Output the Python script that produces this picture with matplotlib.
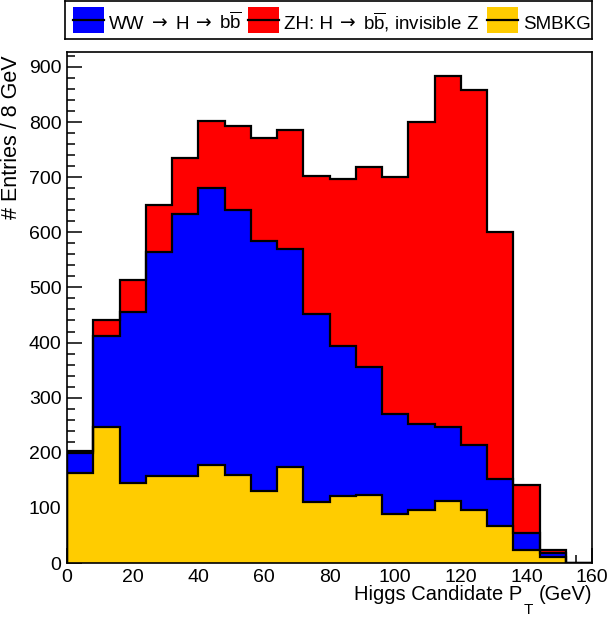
import numpy as np
import matplotlib
matplotlib.use("Agg")
import matplotlib.pyplot as plt
from matplotlib.patches import Rectangle
from matplotlib.ticker import MultipleLocator

plt.rcParams['font.family'] = ['Liberation Sans', 'DejaVu Sans']
plt.rcParams['mathtext.fontset'] = 'custom'
plt.rcParams['mathtext.rm'] = 'Liberation Sans'
plt.rcParams['mathtext.it'] = 'Liberation Sans:italic'
plt.rcParams['mathtext.bf'] = 'Liberation Sans:bold'

# Data: 8 GeV bins from 0 to 160
bin_edges = np.arange(0, 161, 8)
smbkg = [164, 247, 145, 158, 157, 178, 160, 130, 175, 111, 122, 123, 88, 96, 112, 96, 68, 23, 11, 0]
ww_hbb = [35, 165, 310, 407, 476, 503, 481, 454, 395, 341, 272, 233, 183, 156, 135, 118, 84, 32, 7, 0]
zh_hbb = [4, 29, 58, 85, 101, 121, 152, 187, 215, 250, 303, 363, 430, 549, 636, 644, 449, 86, 5, 0]

ARROW = "\u2192"
BBBAR = r"b$\overline{\mathrm{b}}$"
# legend labels as text pieces
label_pieces = [
    ["WW", ARROW, "H", ARROW, BBBAR],
    ["ZH: H", ARROW, BBBAR + ", invisible Z"],
    ["SMBKG"],
]
colors = ["#0000ff", "#ff0000", "#ffcc00"]

W, H = 609, 619
fig = plt.figure(figsize=(W / 100, H / 100), dpi=100)
ax = fig.add_axes([67 / W, (H - 563) / H, (592 - 67) / W, (563 - 52) / H])

s1 = np.array(smbkg, dtype=float)
s2 = s1 + np.array(ww_hbb, dtype=float)
s3 = s2 + np.array(zh_hbb, dtype=float)

for vals, col in [(s3, colors[1]), (s2, colors[0]), (s1, colors[2])]:
    ax.stairs(vals, bin_edges, fill=True, baseline=0, facecolor=col, edgecolor='none', zorder=2)
    ax.stairs(vals, bin_edges, fill=False, baseline=0, color='black', lw=1.6, zorder=3)

ymax = 1.05 * s3.max()
ax.set_xlim(0, 160)
ax.set_ylim(0, ymax)

ax.xaxis.set_major_locator(MultipleLocator(20))
ax.xaxis.set_minor_locator(MultipleLocator(5))
ax.yaxis.set_major_locator(MultipleLocator(100))
ax.yaxis.set_minor_locator(MultipleLocator(20))
ax.tick_params(axis='both', which='both', direction='in', top=False, right=False,
               labelsize=14, width=1.1, colors='black')
ax.tick_params(axis='both', which='major', length=11)
ax.tick_params(axis='both', which='minor', length=5.5)
ax.tick_params(axis='x', which='major', pad=4)
ax.tick_params(axis='y', which='major', pad=4)
for sp in ax.spines.values():
    sp.set_linewidth(1.2)
    sp.set_zorder(5)

# x axis title, ROOT style with lowered subscript
fig.canvas.draw()
renderer = fig.canvas.get_renderer()
fs_title = 14.5
t3 = fig.text(592 / W, 1 - 600 / H, "(GeV)", ha='right', va='baseline', fontsize=fs_title)
bb3 = t3.get_window_extent(renderer)
x_t = bb3.x0 - 5
t2 = fig.text(x_t / W, 1 - 614 / H, "T", ha='right', va='baseline', fontsize=11)
bb2 = t2.get_window_extent(renderer)
fig.text((bb2.x0 - 2) / W, 1 - 600 / H, "Higgs Candidate P", ha='right', va='baseline', fontsize=fs_title)

fig.text(12 / W, 1 - 55 / H, "# Entries / 8 GeV", ha='center', va='top', rotation=90, fontsize=15.5)

# Legend box drawn in pixel coordinates
lx0, lx1, ly0, ly1 = 65, 592, 1, 39
lax = fig.add_axes([lx0 / W, 1 - ly1 / H, (lx1 - lx0) / W, (ly1 - ly0) / H])
lax.set_xlim(lx0, lx1)
lax.set_ylim(ly1, ly0)
lax.set_xticks([])
lax.set_yticks([])
for sp in lax.spines.values():
    sp.set_linewidth(1.2)
box_x = [73, 248, 487]
text_start = [109, 284, 523]
text_end = [242, 479, 590]
fs_leg = 13.5
for bx, col, pieces, x0, x1 in zip(box_x, colors, label_pieces, text_start, text_end):
    lax.add_patch(Rectangle((bx, 7), 31, 26, facecolor=col, edgecolor='none'))
    lax.plot([bx, bx + 31], [20, 20], color='black', lw=1.6)
    arts = []
    for txt in pieces:
        if txt == ARROW:
            t = lax.text(x0, 29, txt, ha='left', va='baseline', fontsize=13.5,
                         family='DejaVu Sans')
        else:
            t = lax.text(x0, 29, txt, ha='left', va='baseline', fontsize=fs_leg)
        arts.append(t)
    widths = [a.get_window_extent(renderer).width for a in arts]
    ngap = max(len(arts) - 1, 1)
    gap = (x1 - x0 - sum(widths)) / ngap if len(arts) > 1 else 0
    gap = max(gap, 3)
    x = x0
    for a, w in zip(arts, widths):
        a.set_x(x)
        x += w + gap

fig.savefig("out.png", dpi=100)
